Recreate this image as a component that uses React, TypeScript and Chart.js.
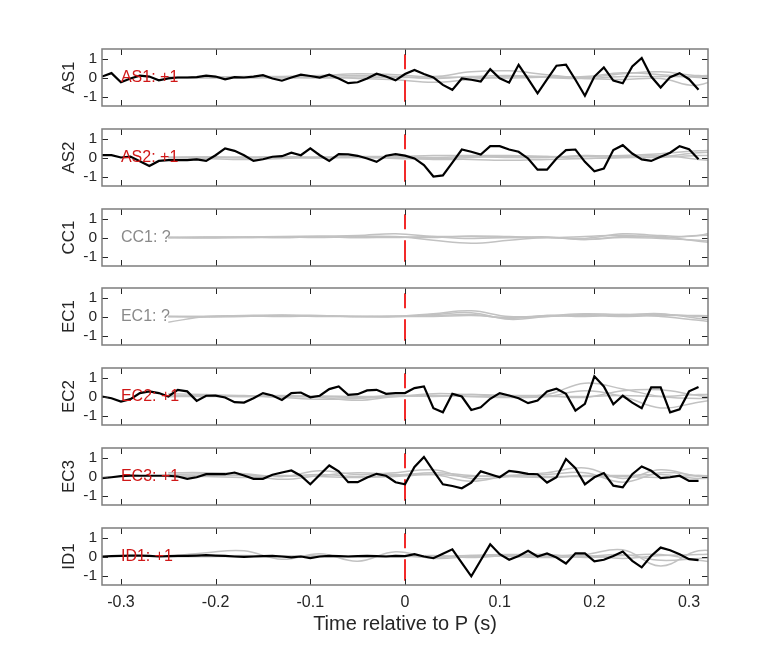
import { useEffect, useRef } from 'react';
import Chart from 'chart.js/auto';

// sample times of the black traces (s)
const TIME = [
  -0.32, -0.31, -0.3, -0.29, -0.28, -0.27, -0.26, -0.25, -0.24, -0.23, -0.22, -0.21, -0.2, -0.19, -0.18, -0.17,
  -0.16, -0.15, -0.14, -0.13, -0.12, -0.11, -0.1, -0.09, -0.08, -0.07, -0.06, -0.05, -0.04, -0.03, -0.02, -0.01,
  0, 0.01, 0.02, 0.03, 0.04, 0.05, 0.06, 0.07, 0.08, 0.09, 0.1, 0.11, 0.12, 0.13, 0.14, 0.15,
  0.16, 0.17, 0.18, 0.19, 0.2, 0.21, 0.22, 0.23, 0.24, 0.25, 0.26, 0.27, 0.28, 0.29, 0.3, 0.31,
];

// knots of the smooth gray traces (s)
const GRAY_TIME = [-0.25, -0.21, -0.17, -0.13, -0.09, -0.05, -0.01, 0.03, 0.07, 0.11, 0.15, 0.19, 0.23, 0.27, 0.31, 0.35];

const X_TICKS = [-0.3, -0.2, -0.1, 0, 0.1, 0.2, 0.3];
const Y_TICKS = [-1, 0, 1];
const P_MARK_Y = [1.22, -1.28];

const AS1_BLACK = [
  0.05, 0.23, -0.25, -0.05, 0.1, 0.05, -0.15, -0.05, 0, 0, 0.02, 0.1, 0.05, -0.1, 0.02, 0,
  0.05, 0.12, -0.05, -0.17, 0, 0.15, 0.08, 0, 0.15, -0.05, -0.3, -0.25, -0.05, 0.2, 0.05, -0.15,
  0.18, 0.4, 0.18, 0, -0.39, -0.65, -0.05, -0.12, -0.21, 0.44, -0.04, -0.27, 0.67, -0.07, -0.83, -0.1,
  0.62, 0.67, -0.12, -0.96, 0.05, 0.53, -0.16, -0.3, 0.58, 1.03, 0.05, -0.53, 0.02, 0.23, -0.09, -0.65,
];
const AS2_BLACK = [
  0.12, 0.12, 0, 0.05, -0.2, -0.45, -0.18, -0.14, -0.14, -0.14, -0.1, -0.18, 0.12, 0.48, 0.35, 0.12,
  -0.18, -0.09, 0.04, 0.07, 0.25, 0.12, 0.48, 0.12, -0.18, 0.18, 0.16, 0.09, -0.05, -0.23, 0.09, 0.18,
  0.1, -0.05, -0.4, -1.0, -0.94, -0.27, 0.42, 0.3, 0.16, 0.6, 0.6, 0.42, 0.3, -0.05, -0.64, -0.64,
  -0.05, 0.39, 0.42, -0.23, -0.73, -0.58, 0.39, 0.65, 0.21, -0.1, -0.18, 0.04, 0.25, 0.6, 0.44, -0.09,
];
const EC2_BLACK = [
  0, -0.09, -0.27, -0.14, 0.18, 0.27, 0.18, 0, 0.35, 0.27, -0.23, 0.04, 0.05, -0.05, -0.3, -0.32,
  -0.09, 0.18, 0.05, -0.18, 0.18, 0.21, -0.04, 0.04, 0.39, 0.53, 0.09, 0.12, 0.32, 0.35, 0.14, 0.18,
  0.18, 0.44, 0.53, -0.62, -0.83, 0.14, 0, -0.71, -0.57, -0.12, 0.18, 0.05, -0.09, -0.35, -0.21, 0.27,
  0.41, 0.14, -0.74, -0.39, 1.06, 0.53, -0.41, 0.04, -0.32, -0.62, 0.48, 0.48, -0.83, -0.67, 0.27, 0.5,
];
const EC3_BLACK = [
  -0.09, -0.04, 0.02, 0.05, 0.04, 0.04, 0.04, 0.04, 0, -0.12, -0.04, 0.12, 0.12, 0.12, 0.21, 0.05,
  -0.12, -0.12, 0.09, 0.21, 0.32, 0.04, -0.41, 0.09, 0.58, 0.27, -0.3, -0.3, -0.05, 0.14, 0.04, -0.3,
  -0.41, 0.5, 1.03, 0.3, -0.41, -0.5, -0.62, -0.32, 0.27, 0.12, -0.04, 0.3, 0.23, 0.14, 0.12, -0.32,
  -0.04, 0.92, 0.44, -0.41, -0.04, 0.18, -0.48, -0.57, 0.12, 0.53, 0.3, -0.09, -0.04, 0.04, -0.23, -0.23,
];
const ID1_BLACK = [
  0, 0.02, 0.03, 0.05, 0.05, 0.03, 0, 0.02, 0.03, 0.03, 0.05, 0.07, 0.05, 0.03, 0, -0.02,
  0, 0.02, 0.03, 0, -0.05, 0, -0.08, 0, 0.03, 0.02, 0, 0.02, 0.03, 0.02, 0, 0.03,
  0.02, 0.12, 0, -0.09, 0.15, 0.38, -0.33, -1.04, -0.2, 0.64, 0.12, -0.17, 0.03, 0.3, 0, 0.16,
  -0.05, -0.37, 0.17, 0.16, -0.26, -0.17, 0.03, 0.26, -0.23, -0.57, 0.03, 0.47, 0.33, 0.12, -0.14, -0.19,
];

const AS1_GRAY = [
  [0, 0.02, 0.05, 0.05, 0.1, 0.2, 0.15, 0.05, 0.3, 0.35, 0.15, 0, 0.2, 0.3, 0.1, 0.2],
  [0, -0.02, 0, -0.03, 0, -0.05, -0.12, -0.25, -0.1, 0.05, 0.05, -0.05, -0.1, -0.05, -0.4, 0.6],
  [0, 0, 0.03, 0, 0.05, 0.1, 0.05, -0.05, 0.05, 0.1, 0, -0.05, 0.05, 0.05, 0.05, 0.1],
  [0, 0.01, -0.02, 0.02, -0.02, 0.02, 0, 0.02, 0, -0.02, 0.02, 0.05, 0.25, 0.15, 0, -0.1],
];
const AS2_GRAY = [
  [0, 0.02, 0, 0.05, 0, 0.05, 0.05, 0.1, 0.1, 0.1, 0.05, 0.05, 0.1, 0.2, 0.35, 0.4],
  [0, -0.05, -0.1, -0.05, 0, 0, -0.05, -0.1, -0.1, -0.15, -0.1, -0.05, 0, 0.05, 0.25, 0.3],
  [0, 0, 0.02, 0, 0.02, 0, 0.05, 0, 0.05, 0, 0, 0.1, 0.05, 0.1, -0.1, -0.3],
  [0, 0.02, -0.02, 0.03, -0.03, 0.02, 0, -0.05, 0, 0.05, 0.05, -0.05, 0, 0, 0.1, 0.1],
];
const CC1_GRAY = [
  [0, 0.02, 0.03, 0.05, 0.08, 0.1, 0.2, 0.05, -0.05, 0, 0, -0.05, 0.2, 0.1, 0.1, 0.7],
  [0, 0, 0, 0.02, 0, 0.05, 0.05, -0.15, -0.3, -0.15, 0, -0.1, 0.05, 0.05, -0.2, -0.35],
  [0, -0.02, 0, 0, 0.02, 0, 0, 0.05, 0.05, 0, 0.03, -0.1, 0, -0.05, -0.15, -0.3],
  [0, 0.01, 0.02, 0, 0.03, 0, 0.02, 0, 0.08, 0.05, 0, 0.05, 0.12, 0, 0.1, 0.2],
];
const EC1_GRAY = [
  [-0.3, 0, 0.05, 0.08, 0.05, 0, 0, 0.15, 0.3, 0, 0.05, 0.15, 0.1, 0.15, -0.1, -0.3],
  [0, 0, 0.03, 0.05, 0.02, 0, 0, 0.1, 0.2, -0.15, 0, 0.1, 0.05, 0.1, 0, -0.2],
  [0, -0.02, 0, 0.05, 0, 0, 0.02, 0.05, 0.1, -0.1, 0.05, 0, 0.1, 0, -0.2, -0.45],
  [0, 0, 0.02, 0, 0.02, 0, 0, 0, 0.05, -0.05, 0, 0.05, 0, 0.05, 0.05, 0],
];
const EC2_GRAY = [
  [0.15, 0.1, 0.05, -0.05, -0.15, -0.1, 0, 0.15, 0.1, 0, 0.1, 0.7, 0.4, 0, -0.1, 0],
  [0.05, 0.05, 0, 0, -0.05, -0.2, 0, 0.05, 0, -0.05, 0, 0.3, 0, -0.6, -0.3, 0],
  [0, 0.02, 0, 0.05, 0, -0.05, 0.05, 0, 0.1, 0.05, 0.05, -0.05, 0.3, 0.35, 0.05, -0.1],
  [0, 0, 0.03, 0, 0.02, 0, 0, 0.05, 0, 0, 0, 0, 0.05, 0, 0.1, 0.1],
];
const EC3_GRAY = [
  [0.2, 0.2, 0.15, 0, 0.3, 0.1, 0.2, 0.35, -0.1, 0, 0.2, 0.45, -0.1, 0.35, 0, -0.05],
  [0.1, 0.15, 0.1, -0.15, 0.05, 0.2, 0.1, 0.1, -0.25, 0.05, 0.1, 0.2, -0.3, 0.2, 0.05, 0],
  [0, 0.05, 0.05, 0, 0.1, 0, 0.05, 0.2, 0.05, 0, -0.05, 0.05, 0.05, 0.1, -0.1, 0.05],
  [0, 0, -0.05, 0.05, 0, -0.05, 0, 0.1, 0, 0.05, 0, 0, 0, -0.05, 0.05, -0.05],
];
const ID1_GRAY = [
  [0, 0.2, 0.3, -0.15, 0.15, -0.25, 0.25, -0.1, 0, 0.05, 0, 0.1, 0.35, -0.5, 0.3, 0.1],
  [0, 0, 0.05, 0, 0.05, 0, 0.05, -0.05, 0.05, 0.1, 0.1, -0.05, 0.05, 0.1, -0.2, -0.4],
  [0, 0.02, 0, 0.02, 0, 0.02, 0, 0.05, -0.05, 0.05, 0.05, 0.05, -0.1, 0.05, 0.1, 0.2],
  [0, 0, 0, 0, 0, 0, 0, 0, 0.05, 0, -0.05, 0, 0.1, -0.2, -0.1, 0],
];

const STATIONS = ['AS1', 'AS2', 'CC1', 'EC1', 'EC2', 'EC3', 'ID1'];
const POLARITY = ['+1', '+1', '?', '?', '+1', '+1', '+1'];
const BLACK = [AS1_BLACK, AS2_BLACK, null, null, EC2_BLACK, EC3_BLACK, ID1_BLACK];
const GRAY = [AS1_GRAY, AS2_GRAY, CC1_GRAY, EC1_GRAY, EC2_GRAY, EC3_GRAY, ID1_GRAY];
const PANEL_TOPS = [49, 129, 209, 288, 368, 448, 528];

const FONT = '"Liberation Sans", Arial, Helvetica, sans-serif';
const TEXT = '#262626';
// must exceed the y axis' own label padding (half label height + tick padding)
const PAD = 14;

interface PanelProps {
  name: string;
  polarity: string;
  black: number[] | null;
  gray: number[][];
  top: number;
  last: boolean;
}

function Panel({ name, polarity, black, gray, top, last }: PanelProps) {
  const chartRef = useRef<HTMLCanvasElement>(null);

  useEffect(() => {
    const ctx = chartRef.current?.getContext('2d');
    if (!ctx) return;

    const known = polarity !== '?';
    const datasets: any[] = [];
    if (black) {
      datasets.push({
        data: TIME.map((t, i) => ({ x: t, y: black[i] })),
        borderColor: '#000000',
        borderWidth: 2.2,
        pointRadius: 0,
        tension: 0,
      });
    }
    // P arrival marker
    datasets.push({
      data: P_MARK_Y.map((v) => ({ x: 0, y: v })),
      borderColor: '#f22a2a',
      borderWidth: 2,
      borderDash: [15, 11, 22],
      pointRadius: 0,
    });
    gray.forEach((g) => {
      datasets.push({
        data: GRAY_TIME.map((t, i) => ({ x: t, y: g[i] })),
        borderColor: '#c2c2c2',
        borderWidth: 1.5,
        pointRadius: 0,
        tension: 0.4,
      });
    });

    // box, inward ticks and station text
    const framePlugin = {
      id: 'frame',
      afterDatasetsDraw(chart: any) {
        const { ctx: c, chartArea: a, scales } = chart;
        const xs = scales.x;
        const ys = scales.y;
        c.save();
        c.strokeStyle = TEXT;
        c.lineWidth = 1;
        c.beginPath();
        X_TICKS.forEach((v) => {
          const px = Math.round(xs.getPixelForValue(v)) + 0.5;
          c.moveTo(px, a.top);
          c.lineTo(px, a.top + 6);
          c.moveTo(px, a.bottom);
          c.lineTo(px, a.bottom - 6);
        });
        Y_TICKS.forEach((v) => {
          const py = Math.round(ys.getPixelForValue(v)) + 0.5;
          c.moveTo(a.left, py);
          c.lineTo(a.left + 6, py);
          c.moveTo(a.right, py);
          c.lineTo(a.right - 6, py);
        });
        c.stroke();
        c.strokeStyle = '#7d7d7d';
        c.lineWidth = 1.5;
        c.strokeRect(a.left, a.top, a.right - a.left, a.bottom - a.top);
        c.font = `16px ${FONT}`;
        c.fillStyle = known ? '#d01818' : '#8a8a8a';
        c.textAlign = 'left';
        c.textBaseline = 'middle';
        c.fillText(`${name}: ${polarity}`, xs.getPixelForValue(-0.3), ys.getPixelForValue(0));
        c.restore();
      },
    };

    const chart = new Chart(ctx, {
      type: 'line',
      data: { datasets },
      options: {
        animation: false,
        responsive: true,
        maintainAspectRatio: false,
        layout: { padding: { left: 61, right: 74, top: PAD, bottom: last ? 23 : PAD } },
        plugins: { legend: { display: false }, tooltip: { enabled: false } },
        scales: {
          x: {
            type: 'linear',
            min: -0.32,
            max: 0.32,
            display: last,
            grid: { display: false, drawTicks: false },
            border: { display: false },
            afterBuildTicks: (scale: any) => {
              scale.ticks = X_TICKS.map((v) => ({ value: v }));
            },
            afterFit: (scale: any) => {
              scale.height = last ? 49 : 0;
            },
            ticks: {
              padding: 8,
              color: TEXT,
              font: { family: FONT, size: 16 },
              callback: (v: any) => String(Number(Number(v).toFixed(1))),
            },
            title: {
              display: true,
              text: 'Time relative to P (s)',
              color: TEXT,
              padding: 0,
              font: { family: FONT, size: 20, lineHeight: 1 },
            },
          },
          y: {
            min: -1.5,
            max: 1.5,
            grid: { display: false, drawTicks: false },
            border: { display: false },
            afterBuildTicks: (scale: any) => {
              scale.ticks = Y_TICKS.map((v) => ({ value: v }));
            },
            afterFit: (scale: any) => {
              scale.width = 41;
            },
            ticks: {
              padding: 5,
              color: TEXT,
              font: { family: FONT, size: 15.5, lineHeight: 1 },
              callback: (v: any) => String(v),
            },
            title: {
              display: true,
              text: name,
              color: TEXT,
              padding: 0,
              font: { family: FONT, size: 17, lineHeight: 1 },
            },
          },
        },
      },
      plugins: [framePlugin],
    });

    return () => {
      chart.destroy();
    };
  }, [name, polarity, black, gray, last]);

  return (
    <div
      style={{
        position: 'absolute',
        left: 0,
        top: top - PAD,
        width: 782,
        height: last ? 57 + PAD + 23 + 49 : 57 + 2 * PAD,
      }}
    >
      <canvas ref={chartRef} />
    </div>
  );
}

export default function App() {
  return (
    <div style={{ position: 'absolute', left: 0, top: 0, width: 782, height: 657, background: '#ffffff' }}>
      {STATIONS.map((s, i) => (
        <Panel
          key={s}
          name={s}
          polarity={POLARITY[i]}
          black={BLACK[i]}
          gray={GRAY[i]}
          top={PANEL_TOPS[i]}
          last={i === STATIONS.length - 1}
        />
      ))}
    </div>
  );
}
